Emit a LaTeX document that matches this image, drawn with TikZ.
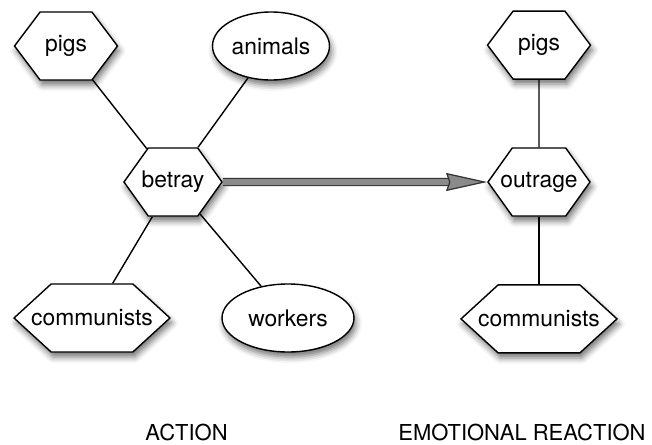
\documentclass[tikz,border=0pt]{standalone}
\usepackage{fontspec}
\setmainfont{TeX Gyre Heros}
\usetikzlibrary{shapes.geometric, shapes.symbols, arrows.meta, positioning, shadows.blur}
\definecolor{agGray}{HTML}{8A8A8A}
\definecolor{agDark}{HTML}{333333}
\tikzset{
  aghex/.style={signal, signal to=west and east, signal pointer angle=#1,
                draw=black, line width=0.8pt, fill=white, inner xsep=-0.4cm, inner ysep=1pt,
                minimum height=1.36cm, font=\fontsize{13}{15}\selectfont,
                blur shadow={shadow xshift=0.04cm, shadow yshift=-0.1cm, shadow blur radius=0.12cm, shadow opacity=55}},
  aghex/.default=106,
  agoval/.style={ellipse, draw=black, line width=0.8pt, fill=white, inner sep=1pt,
                 minimum height=1.36cm, font=\fontsize{13}{15}\selectfont,
                 blur shadow={shadow xshift=0.04cm, shadow yshift=-0.1cm, shadow blur radius=0.12cm, shadow opacity=55}},
  aglink/.style={line width=0.8pt, draw=black},
  agflow/.style={draw=agDark, double=agGray, double distance=0.12cm, line width=0.7pt,
                 -{Stealth[length=0.82cm, width=0.36cm, inset=0.06cm, fill=agGray, line width=0.7pt]}},
  aglabel/.style={font=\fontsize{12.5}{15}\selectfont, anchor=base},
}
\begin{document}
\begin{tikzpicture}[node distance=1.35cm]
  \useasboundingbox (0,0) rectangle (13.04,-8.88);
  % action side
  \node[aghex, minimum width=2.06cm] (pigsA) at (1.32,-0.92) {pigs};
  \node[agoval, minimum width=2.34cm] (animals) at (5.42,-0.92) {animals};
  \node[aghex=109, minimum width=1.96cm] (betray) at (3.46,-3.64) {betray};
  \node[aghex=85, minimum width=3.08cm] (commA) at (1.84,-6.36) {communists};
  \node[agoval, minimum width=2.64cm] (workers) at (5.76,-6.36) {workers};
  % reaction side
  \node[aghex=109, minimum width=2.04cm] (outrage) at (10.78,-3.64) {outrage};
  \node[aghex, minimum width=2.06cm, above=of outrage] (pigsE) {pigs};
  \node[aghex=85, minimum width=3.06cm, below=of outrage] (commE) {communists};
  \draw[aglink] (pigsA) -- (betray);
  \draw[aglink] (animals) -- (betray);
  \draw[aglink] (betray) -- (commA);
  \draw[aglink] (betray) -- (workers);
  \draw[aglink] (pigsE) -- (outrage);
  \draw[aglink] (outrage) -- (commE);
  \draw[agflow] (betray) -- (outrage);
  \node[aglabel] (action) at (3.73,-8.80) {ACTION};
  \node[aglabel] (reaction) at (10.44,-8.80) {EMOTIONAL REACTION};
\end{tikzpicture}
\end{document}
